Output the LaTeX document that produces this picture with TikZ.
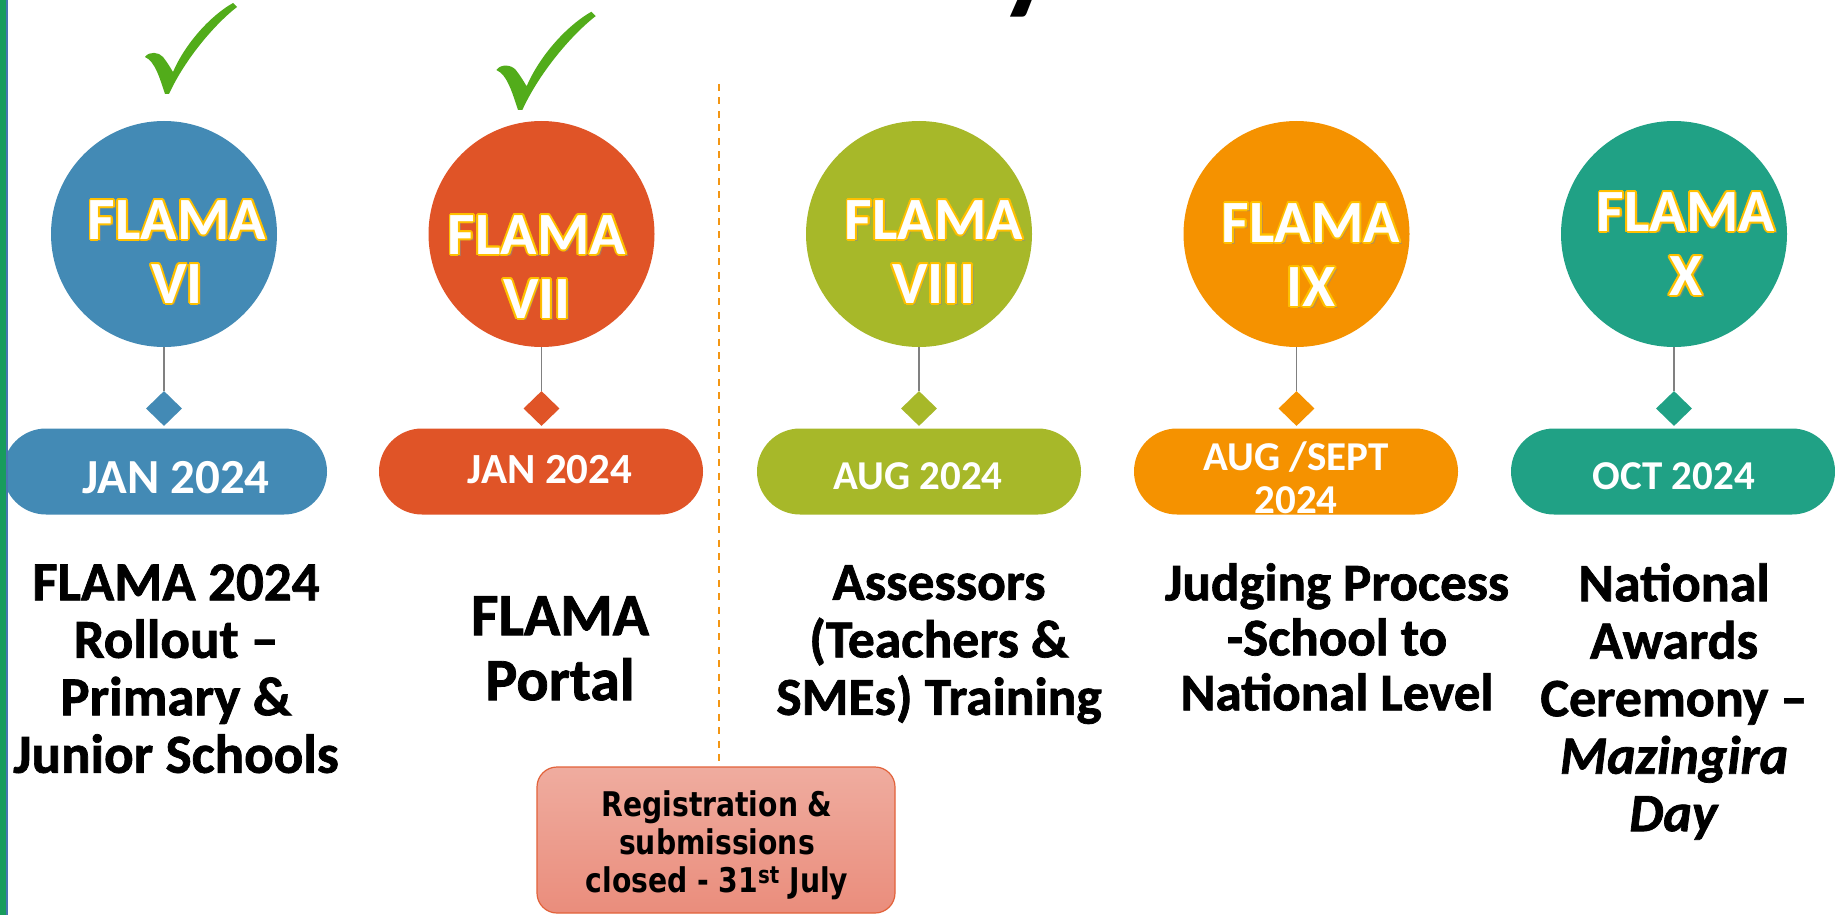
\documentclass[tikz,border=0pt]{standalone}
\usepackage{fontspec}
\setmainfont{Carlito}
\newfontfamily\heavyfont{Carlito}[BoldFeatures={FakeBold=1.3}, BoldItalicFeatures={FakeBold=1.3}]
\newfontfamily\boxfont[FakeStretch=0.83]{DejaVu Sans}
\usetikzlibrary{shapes.geometric,calc}

\definecolor{cblue}{RGB}{67,138,181}
\definecolor{cred}{RGB}{224,84,39}
\definecolor{colive}{RGB}{167,184,41}
\definecolor{corange}{RGB}{245,146,0}
\definecolor{cteal}{RGB}{32,161,133}
\definecolor{gold}{RGB}{255,192,0}
\definecolor{checkg}{RGB}{82,172,26}
\definecolor{dashc}{RGB}{243,150,20}
\definecolor{barg}{RGB}{24,156,92}
\definecolor{barb}{RGB}{72,118,176}
\definecolor{boxtop}{RGB}{239,172,159}
\definecolor{boxbot}{RGB}{234,141,124}
\definecolor{boxedge}{RGB}{226,98,58}
\definecolor{stemc}{RGB}{128,128,128}

\newcommand\circfont{\fontsize{60}{64}\selectfont\bfseries}
\newcommand\descfont{\heavyfont\fontsize{54}{57.5}\selectfont\bfseries}
\newcommand\ptfont{\fontsize{41}{43}\selectfont\bfseries}

\tikzset{
  circ/.style={circle, minimum size=226pt, inner sep=0pt},
  dia/.style={diamond, minimum width=36pt, minimum height=35pt, inner sep=0pt},
  pill/.style={rectangle, rounded corners=43pt, minimum width=324pt, minimum height=86pt, inner sep=0pt},
  stem/.style={draw=stemc, line width=1.3pt},
  pilltext/.style={text=white, align=center, anchor=north, inner sep=0pt},
  desc/.style={align=center, anchor=north, inner sep=0pt, font=\descfont},
  circtext/.style={align=center, anchor=north, inner sep=0pt, font=\circfont},
  regbox/.style={rectangle, rounded corners=20pt, minimum width=358pt, minimum height=146pt,
    draw=boxedge, line width=1.2pt, top color=boxtop, bottom color=boxbot},
  dashline/.style={draw=dashc, line width=2pt, dash pattern=on 7pt off 6.4pt},
  checkpic/.pic={
    \fill[checkg] (0,0) .. controls (-5,-15) and (-10,-33) .. (-20,-37)
      .. controls (-16,-43) and (-6,-42) .. (-2,-37)
      .. controls (2,-32) and (5,-27) .. (8,-22)
      .. controls (20,-50) and (45,-78) .. (68,-91)
      -- (72,-87)
      .. controls (50,-70) and (20,-35) .. (4,0) -- cycle;
  }
}

\newcommand\goldlabel[3]{%
  \node[circtext, text=black!45, text opacity=0.55] at ($(#2)+(2.5,2.5)$) {#3};
  \foreach \a in {0,30,...,330} {
    \node[circtext, text=gold] at ($(#2)+(\a:1.9)$) {#3};
  }
  \node[circtext, text=white] (#1) at (#2) {#3};
}

\begin{document}
\begin{tikzpicture}[x=1pt,y=-1pt]
\useasboundingbox (0,0) rectangle (1835,915);
\clip (0,0) rectangle (1835,915);
\fill[white] (0,0) rectangle (1835,915);

% title fragment
\node[anchor=base west, inner sep=0pt, font=\fontsize{125}{125}\selectfont\bfseries] (ttl) at (998,-2) {y};

% check marks
\pic at (165,94) {checkpic};
\pic[scale=1.08] at (518,110) {checkpic};

% circles
\node[circ, fill=cblue]  (c1) at (164,234) {};
\node[circ, fill=cred]   (c2) at (541.5,234) {};
\node[circ, fill=colive] (c3) at (919,234) {};
\node[circ, fill=corange](c4) at (1296.5,234) {};
\node[circ, fill=cteal]  (c5) at (1674,234) {};

% circle texts
\coordinate (q1) at (177,200);
\coordinate (q2) at (537,215);
\coordinate (q3) at (934,200);
\coordinate (q4) at (1311,203);
\coordinate (q5) at (1686,192);
\goldlabel{n1}{q1}{FLAMA\\VI}
\goldlabel{n2}{q2}{FLAMA\\VII}
\goldlabel{n3}{q3}{FLAMA\\VIII}
\goldlabel{n4}{q4}{FLAMA\\IX}
\goldlabel{n5}{q5}{FLAMA\\X}

% diamonds
\node[dia, fill=cblue]   (d1) at (164,408.5) {};
\node[dia, fill=cred]    (d2) at (541.5,408.5) {};
\node[dia, fill=colive]  (d3) at (919,408.5) {};
\node[dia, fill=corange] (d4) at (1296.5,408.5) {};
\node[dia, fill=cteal]   (d5) at (1674,408.5) {};

\foreach \i in {1,...,5} { \draw[stem] (c\i.south) -- (d\i.north); }

% pills
\node[pill, fill=cblue]   (p1) at (165,471.5) {};
\node[pill, fill=cred]    (p2) at (541,471.5) {};
\node[pill, fill=colive]  (p3) at (919,471.5) {};
\node[pill, fill=corange] (p4) at (1296,471.5) {};
\node[pill, fill=cteal]   (p5) at (1673,471.5) {};

\node[pilltext, font=\fontsize{49}{50}\selectfont\bfseries] (pt1) at (176,461) {JAN 2024};
\node[pilltext, font=\fontsize{43}{46}\selectfont\bfseries] (pt2) at (550,455) {JAN 2024};
\node[pilltext, font=\ptfont] (pt3) at (918,462) {AUG 2024};
\node[pilltext, font=\ptfont] (pt4) at (1296,442) {AUG /SEPT\\2024};
\node[pilltext, font=\ptfont] (pt5) at (1674,462) {OCT 2024};

% left bar
\fill[barg] (0,0) rectangle (6,915);
\fill[barb] (6,0) rectangle (8,915);

% descriptions
\node[desc, font=\heavyfont\fontsize{55}{57.5}\selectfont\bfseries] (t1) at (176,564) {FLAMA 2024\\Rollout –\\Primary \&\\Junior Schools};
\node[desc, font=\heavyfont\fontsize{60}{65}\selectfont\bfseries] (t2) at (560,596) {FLAMA\\Portal};
\node[desc, font=\heavyfont\fontsize{53.5}{57.5}\selectfont\bfseries] (t3) at (939,565) {Assessors\\(Teachers \&\\SMEs) Training};
\node[desc, font=\heavyfont\fontsize{53}{55}\selectfont\bfseries] (t4) at (1337,563) {Judging Process\\-School to\\National Level};
\node[desc] (t5) at (1674,563) {National\\Awards\\Ceremony –\\\textit{Mazingira}\\\textit{Day}};

% registration box and divider
\node[regbox] (reg) at (716,840) {};
\node[anchor=north, align=center, inner sep=0pt, font=\boxfont\fontsize{34}{38}\selectfont\bfseries] (regtext) at (717,790) {Registration \&\\submissions\\closed - 31\textsuperscript{st} July};
\coordinate (dtop) at (719,84);
\draw[dashline] (dtop) -- (dtop |- reg.north);
\end{tikzpicture}
\end{document}
